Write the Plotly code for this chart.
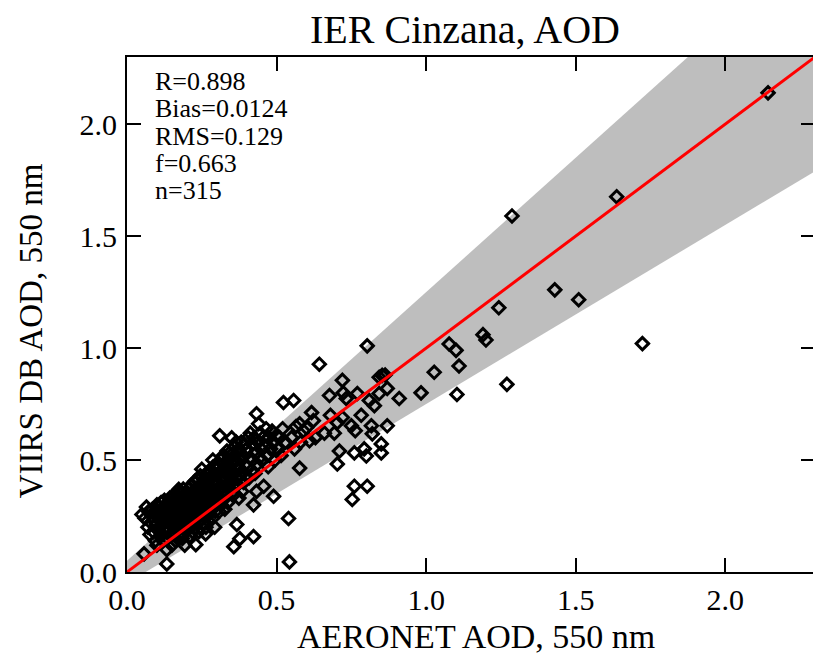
import plotly.graph_objects as go

# AERONET AOD (x) / VIIRS DB AOD (y)
aeronet_aod = [
    # 0.05 - 0.10
    0.05, 0.057, 0.06, 0.065, 0.07, 0.072, 0.077, 0.08, 0.083, 0.085,
    0.088, 0.09, 0.093, 0.095, 0.098, 0.10,
    # 0.10 - 0.15
    0.10, 0.102, 0.105, 0.107, 0.11, 0.112, 0.114, 0.115, 0.117, 0.12,
    0.12, 0.122, 0.124, 0.125, 0.127, 0.13, 0.13, 0.132, 0.133, 0.135,
    0.136, 0.138, 0.14, 0.14, 0.142, 0.143, 0.145, 0.146, 0.147, 0.148,
    0.149, 0.15, 0.15, 0.133, 0.128,
    # 0.15 - 0.20
    0.152, 0.153, 0.155, 0.156, 0.158, 0.16, 0.16, 0.162, 0.163, 0.165,
    0.166, 0.167, 0.168, 0.17, 0.17, 0.172, 0.173, 0.174, 0.175, 0.176,
    0.178, 0.179, 0.18, 0.18, 0.182, 0.183, 0.184, 0.185, 0.186, 0.188,
    0.189, 0.19, 0.19, 0.191, 0.192, 0.193, 0.194, 0.195, 0.196, 0.197,
    0.198, 0.199, 0.2, 0.2, 0.173,
    # 0.20 - 0.25
    0.202, 0.203, 0.205, 0.206, 0.207, 0.208, 0.21, 0.21, 0.212, 0.213,
    0.214, 0.215, 0.216, 0.218, 0.219, 0.22, 0.22, 0.222, 0.223, 0.224,
    0.225, 0.226, 0.227, 0.228, 0.229, 0.23, 0.23, 0.232, 0.233, 0.234,
    0.235, 0.236, 0.238, 0.239, 0.24, 0.24, 0.242, 0.243, 0.244, 0.245,
    0.246, 0.247, 0.248, 0.25, 0.25,
    # 0.25 - 0.30
    0.252, 0.254, 0.255, 0.257, 0.258, 0.26, 0.26, 0.262, 0.264, 0.265,
    0.266, 0.268, 0.27, 0.27, 0.272, 0.273, 0.275, 0.276, 0.278, 0.28,
    0.28, 0.282, 0.283, 0.285, 0.286, 0.288, 0.29, 0.29, 0.292, 0.293,
    0.295, 0.296, 0.298, 0.3, 0.3, 0.293, 0.263, 0.287,
    # 0.30 - 0.35
    0.302, 0.304, 0.305, 0.307, 0.308, 0.31, 0.31, 0.312, 0.314, 0.315,
    0.317, 0.318, 0.32, 0.32, 0.322, 0.324, 0.325, 0.327, 0.328, 0.33,
    0.33, 0.332, 0.334, 0.335, 0.337, 0.338, 0.34, 0.34, 0.343, 0.345,
    0.347, 0.35,
    # 0.35 - 0.40
    0.352, 0.354, 0.355, 0.357, 0.358, 0.36, 0.36, 0.362, 0.364, 0.365,
    0.367, 0.368, 0.37, 0.37, 0.372, 0.374, 0.375, 0.377, 0.378, 0.38,
    0.382, 0.384, 0.385, 0.388, 0.39, 0.393, 0.395, 0.398,
    # 0.40 - 0.45
    0.40, 0.402, 0.405, 0.408, 0.41, 0.412, 0.415, 0.418, 0.42, 0.423,
    0.425, 0.428, 0.43, 0.433, 0.435, 0.438, 0.44, 0.443, 0.445, 0.448,
    0.423, 0.433,
    # 0.45 - 0.55
    0.45, 0.455, 0.457, 0.46, 0.465, 0.47, 0.472, 0.475, 0.48, 0.485,
    0.49, 0.49, 0.495, 0.5, 0.505, 0.51, 0.515, 0.52, 0.523, 0.53,
    # 0.54 - 0.65
    0.54, 0.543, 0.55, 0.557, 0.56, 0.565, 0.577, 0.577, 0.58, 0.59,
    0.6, 0.61, 0.617, 0.623, 0.63, 0.643,
    # 0.65 - 1.05
    0.677, 0.723, 0.733, 0.71, 0.703, 0.76, 0.753, 0.803, 0.72, 0.77,
    0.783, 0.72, 0.703, 0.87, 0.693, 0.75, 0.763, 0.817, 0.82, 0.76,
    0.793, 0.8, 0.85, 0.85, 0.803, 0.853, 0.863, 0.843, 0.87, 0.843,
    0.81, 0.827, 0.91, 0.983, 1.027, 0.66, 0.68,
    # high AOD
    1.077, 1.1, 1.11, 1.27, 1.103, 1.19, 1.2, 1.243, 1.43, 1.51,
    1.287, 1.637, 2.143, 1.723,
]

viirs_aod = [
    # 0.05 - 0.10
    0.257, 0.081, 0.24, 0.29, 0.20, 0.27, 0.167, 0.22, 0.25, 0.28,
    0.18, 0.23, 0.26, 0.14, 0.21, 0.30,
    # 0.10 - 0.15
    0.12, 0.26, 0.19, 0.29, 0.23, 0.16, 0.31, 0.27, 0.21, 0.25,
    0.14, 0.28, 0.22, 0.32, 0.18, 0.24, 0.29, 0.2, 0.036, 0.27,
    0.15, 0.31, 0.22, 0.26, 0.19, 0.33, 0.24, 0.28, 0.17, 0.3,
    0.21, 0.26, 0.12, 0.1, 0.3,
    # 0.15 - 0.20
    0.23, 0.29, 0.17, 0.32, 0.26, 0.2, 0.34, 0.14, 0.28, 0.24,
    0.3, 0.19, 0.36, 0.22, 0.27, 0.33, 0.16, 0.25, 0.31, 0.21,
    0.35, 0.28, 0.18, 0.24, 0.3, 0.26, 0.33, 0.15, 0.22, 0.37,
    0.27, 0.2, 0.32, 0.25, 0.29, 0.12, 0.35, 0.23, 0.31, 0.19,
    0.27, 0.34, 0.22, 0.3, 0.369,
    # 0.20 - 0.25
    0.26, 0.33, 0.19, 0.29, 0.37, 0.23, 0.31, 0.16, 0.27, 0.35,
    0.21, 0.3, 0.39, 0.25, 0.18, 0.33, 0.28, 0.36, 0.22, 0.31,
    0.26, 0.4, 0.405, 0.2, 0.34, 0.29, 0.122, 0.37, 0.24, 0.32,
    0.27, 0.41, 0.22, 0.35, 0.3, 0.18, 0.38, 0.26, 0.33, 0.43,
    0.28, 0.36, 0.24, 0.459, 0.31,
    # 0.25 - 0.30
    0.38, 0.22, 0.34, 0.29, 0.41, 0.25, 0.36, 0.31, 0.2, 0.44,
    0.33, 0.27, 0.39, 0.23, 0.35, 0.3, 0.42, 0.26, 0.37, 0.32,
    0.45, 0.28, 0.4, 0.34, 0.24, 0.47, 0.36, 0.31, 0.43, 0.473,
    0.27, 0.39, 0.34, 0.46, 0.3, 0.2, 0.17, 0.5,
    # 0.30 - 0.35
    0.4, 0.33, 0.48, 0.37, 0.27, 0.44, 0.608, 0.35, 0.5, 0.3,
    0.42, 0.38, 0.46, 0.32, 0.52, 0.36, 0.41, 0.28, 0.49, 0.44,
    0.34, 0.39, 0.54, 0.47, 0.31, 0.43, 0.5, 0.37, 0.532, 0.45,
    0.4, 0.599,
    # 0.35 - 0.40
    0.48, 0.38, 0.53, 0.113, 0.44, 0.56, 0.35, 0.5, 0.42, 0.58,
    0.212, 0.46, 0.39, 0.53, 0.47, 0.33, 0.55, 0.149, 0.43, 0.5,
    0.58, 0.36, 0.45, 0.52, 0.4, 0.57, 0.48, 0.43,
    # 0.40 - 0.45
    0.55, 0.47, 0.6, 0.42, 0.51, 0.62, 0.45, 0.57, 0.5, 0.158,
    0.6, 0.44, 0.53, 0.707, 0.48, 0.58, 0.662, 0.51, 0.62, 0.55,
    0.3, 0.36,
    # 0.45 - 0.55
    0.5, 0.6, 0.383, 0.56, 0.64, 0.52, 0.47, 0.6, 0.55, 0.63,
    0.338, 0.58, 0.5, 0.61, 0.55, 0.6, 0.52, 0.64, 0.757, 0.58,
    # 0.54 - 0.65
    0.239, 0.045, 0.6, 0.766, 0.55, 0.65, 0.464, 0.662, 0.58, 0.63,
    0.644, 0.586, 0.712, 0.676, 0.6, 0.928,
    # 0.65 - 1.05
    0.788, 0.80, 0.775, 0.54, 0.482, 0.383, 0.324, 0.383, 0.856, 0.797,
    0.70, 0.69, 0.667, 0.653, 0.62, 0.653, 0.631, 0.653, 0.617, 0.532,
    0.55, 0.518, 0.572, 0.532, 1.01, 0.878, 0.88, 0.87, 0.82, 0.797,
    0.766, 0.743, 0.775, 0.80, 0.892, 0.62, 0.7,
    # high AOD
    1.018, 0.99, 0.92, 0.838, 0.793, 1.06, 1.036, 1.18, 1.26, 1.216,
    1.59, 1.676, 2.14, 1.02,
]

stats_lines = ["R=0.898", "Bias=0.0124", "RMS=0.129", "f=0.663", "n=315"]

axis_range = [0, 2.3]
tick_vals = [0.0, 0.5, 1.0, 1.5, 2.0]

# expected error envelope: +-(0.05 + 0.2*AOD)
ee_offset = 0.05
ee_slope = 0.2
band_x = [axis_range[0], axis_range[1], axis_range[1], axis_range[0]]
band_y = [
    band_x[0] * (1 + ee_slope) + ee_offset,
    band_x[1] * (1 + ee_slope) + ee_offset,
    band_x[2] * (1 - ee_slope) - ee_offset,
    band_x[3] * (1 - ee_slope) - ee_offset,
]

font_family = "Liberation Serif, Times New Roman, serif"

# the page body adds an 8 px offset, so the figure is 8 px smaller
page_off = 8
fig_w, fig_h = 821 - page_off, 658 - page_off
plot_left, plot_right = 127 - page_off, 817 - page_off
plot_top, plot_bottom = 57 - page_off, 572 - page_off
plot_w = plot_right - plot_left
plot_h = plot_bottom - plot_top

fig = go.Figure()

fig.add_trace(go.Scatter(
    x=band_x, y=band_y,
    fill='toself',
    fillcolor='rgb(190,190,190)',
    mode='lines',
    line=dict(width=0, color='rgb(190,190,190)'),
    hoverinfo='skip',
    showlegend=False
))

fig.add_trace(go.Scatter(
    x=aeronet_aod, y=viirs_aod,
    mode='markers',
    marker=dict(symbol='diamond-open', size=9.5, color='black',
                line=dict(width=3, color='black')),
    showlegend=False
))

fig.add_trace(go.Scatter(
    x=axis_range, y=axis_range,
    mode='lines',
    line=dict(color='red', width=3),
    showlegend=False
))

axis_style = dict(
    range=axis_range,
    tickvals=tick_vals,
    tickformat='.1f',
    ticks='inside',
    ticklen=14,
    tickwidth=1.5,
    tickcolor='black',
    showline=True,
    linecolor='black',
    linewidth=2,
    mirror='ticks',
    showgrid=False,
    zeroline=False,
    tickfont=dict(size=30, color='black', family=font_family),
)

fig.update_xaxes(**axis_style)
fig.update_yaxes(**axis_style, ticklabelstandoff=2)


def px_to_paper(px, py):
    return ((px - page_off - plot_left) / plot_w,
            (plot_bottom - (py - page_off)) / plot_h)


# one text block: small base font keeps the tight line spacing,
# the spans carry the larger glyph size
stats_text = "<br>".join(
    f'<span style="font-size:26px">{line}</span>' for line in stats_lines
)

annotations = []
ax, ay = px_to_paper(153, 136)
annotations.append(dict(
    text=stats_text, xref='paper', yref='paper', x=ax, y=ay,
    xanchor='left', yanchor='middle', align='left', showarrow=False,
    font=dict(size=21, color='black', family=font_family)
))

ax, ay = px_to_paper(477, 636)
annotations.append(dict(
    text="AERONET AOD, 550 nm", xref='paper', yref='paper', x=ax, y=ay,
    xanchor='center', yanchor='middle', showarrow=False,
    font=dict(size=34, color='black', family=font_family)
))
ax, ay = px_to_paper(31, 331)
annotations.append(dict(
    text="VIIRS DB AOD, 550 nm", xref='paper', yref='paper', x=ax, y=ay,
    xanchor='center', yanchor='middle', textangle=-90, showarrow=False,
    font=dict(size=33, color='black', family=font_family)
))

fig.update_layout(
    width=fig_w,
    height=fig_h,
    margin=dict(l=plot_left, r=fig_w - plot_right, t=plot_top,
                b=fig_h - plot_bottom),
    plot_bgcolor='white',
    paper_bgcolor='white',
    title=dict(text="IER Cinzana, AOD", x=(465 - page_off) / fig_w,
               xanchor='center', y=1 - (29 - page_off) / fig_h,
               yanchor='middle',
               font=dict(size=40, color='black', family=font_family)),
    annotations=annotations,
    font=dict(family=font_family, color='black'),
)

fig.write_html("out.html")
